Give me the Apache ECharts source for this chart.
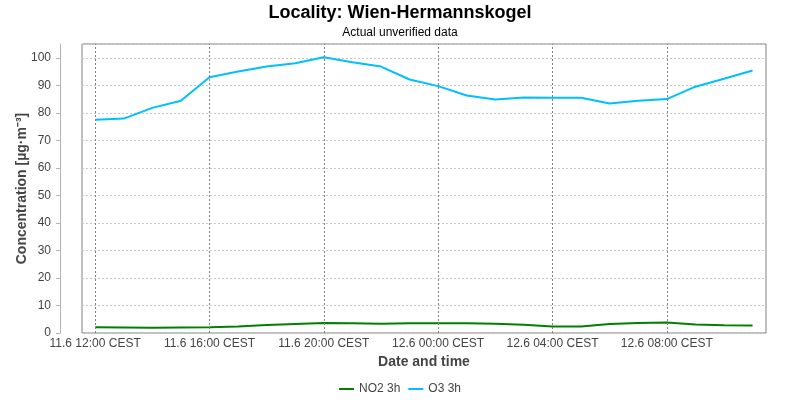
<!DOCTYPE html>
<html>
<head>
<meta charset="utf-8">
<script src="https://cdn.jsdelivr.net/npm/echarts@6/dist/echarts.min.js"></script>
<style>
html,body{margin:0;padding:0;background:#fff;}
#chart{width:800px;height:400px;}
</style>
</head>
<body>
<div id="chart"></div>
<script>
// hours since 11.6 00:00
const hours = [12,13,14,15,16,17,18,19,20,21,22,23,24,25,26,27,28,29,30,31,32,33,34,35];
const no2 = [2.1,2.0,1.9,2.0,2.1,2.4,2.9,3.3,3.6,3.5,3.4,3.5,3.5,3.5,3.4,3.0,2.4,2.4,3.3,3.6,3.8,3.1,2.8,2.7];
const o3 = [77.5,77.9,81.8,84.4,92.9,95.0,96.8,98.0,100.2,98.4,96.8,92.1,89.7,86.3,84.8,85.6,85.5,85.5,83.4,84.4,85.0,89.5,92.4,95.4];
const tickHours = [12,16,20,24,28,32];
const seriesNames = ['NO2 3h','O3 3h'];

function pad(n){return (n<10?'0':'')+n;}
function fmtHour(h){
  const day = 11 + Math.floor(h/24);
  const hh = h % 24;
  return day + '.6 ' + pad(hh) + ':00 CEST';
}

const chart = echarts.init(document.getElementById('chart'), null, {renderer:'canvas'});
const font = 'Liberation Sans, Arial, sans-serif';
chart.setOption({
  animation:false,
  textStyle:{fontFamily:font},
  title:{
    text:'Locality: Wien-Hermannskogel',
    subtext:'Actual unverified data',
    left:'center', top:-1, itemGap:5,
    textStyle:{fontSize:18,fontWeight:'bold',color:'#000',fontFamily:font},
    subtextStyle:{fontSize:12,color:'#000',fontFamily:font}
  },
  legend:{
    data:seriesNames,
    bottom:0, left:'center',
    icon:'rect', itemWidth:15, itemHeight:2, itemGap:8,
    textStyle:{fontSize:12,color:'#444',fontFamily:font}
  },
  grid:{left:82,right:34,top:44,bottom:67,show:true,borderColor:'#808080',borderWidth:1,containLabel:false},
  xAxis:{
    type:'value', min:11.54, max:35.47,
    name:'Date and time', nameLocation:'middle', nameGap:22, nameMoveOverlap:false,
    nameTextStyle:{fontSize:14,fontWeight:'bold',color:'#444',fontFamily:font},
    axisLine:{show:false}, axisTick:{show:false},
    splitLine:{show:false},
    axisLabel:{customValues:tickHours, formatter:function(v){return fmtHour(v);}, margin:5, fontSize:12, color:'#444', fontFamily:font}
  },
  yAxis:{
    type:'value', min:0, max:105, interval:10, offset:22,
    name:'Concentration [µg·m⁻³]', nameLocation:'middle', nameGap:31, nameMoveOverlap:false,
    nameTextStyle:{fontSize:14,fontWeight:'bold',color:'#444',fontFamily:font},
    axisLine:{show:true,lineStyle:{color:'#b4b4b4',width:1}},
    axisTick:{show:true,length:4,lineStyle:{color:'#b4b4b4'}},
    axisLabel:{showMaxLabel:false, margin:9, fontSize:12, color:'#444', fontFamily:font},
    splitLine:{show:true,lineStyle:{color:'#c8c8c8',type:[2,2],width:1}}
  },
  series:[
    {
      name:'grid', type:'line', data:[], z:1, silent:true,
      markLine:{
        silent:true, symbol:['none','none'], label:{show:false},
        lineStyle:{color:'#808080',type:[2,2],width:1},
        data:tickHours.map(h=>({xAxis:h}))
      }
    },
    {
      name:seriesNames[0], type:'line', z:3,
      data:hours.map((h,i)=>[h,no2[i]]),
      showSymbol:false, lineStyle:{color:'#008000',width:2}, itemStyle:{color:'#008000'}
    },
    {
      name:seriesNames[1], type:'line', z:3,
      data:hours.map((h,i)=>[h,o3[i]]),
      showSymbol:false, lineStyle:{color:'#00bfff',width:2}, itemStyle:{color:'#00bfff'}
    }
  ]
});
</script>
</body>
</html>
